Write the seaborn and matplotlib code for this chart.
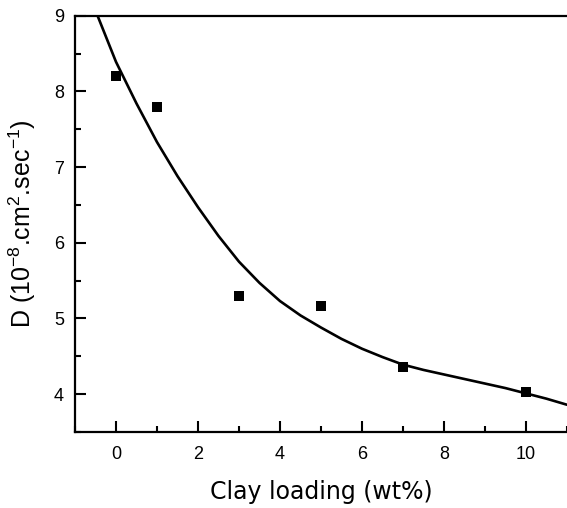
import matplotlib
matplotlib.use("Agg")
import matplotlib.pyplot as plt
from matplotlib.ticker import MultipleLocator
import pandas as pd
import seaborn as sns

# Measured diffusion coefficients
clay_wt = [0, 1, 3, 5, 7, 10]
diffusivity = [8.20, 7.80, 5.30, 5.16, 4.36, 4.03]

# Fitted trend curve
fit_x = [-0.45, 0.0, 0.5, 1.0, 1.5, 2.0, 2.5, 3.0, 3.5, 4.0, 4.5, 5.0, 5.5,
         6.0, 6.5, 7.0, 7.5, 8.0, 8.5, 9.0, 9.5, 10.0, 10.5, 11.0]
fit_y = [9.00, 8.39, 7.84, 7.33, 6.88, 6.47, 6.09, 5.75, 5.47, 5.23, 5.04, 4.88,
         4.73, 4.60, 4.49, 4.39, 4.32, 4.26, 4.20, 4.14, 4.08, 4.01, 3.94, 3.86]

x_ticks = [0, 2, 4, 6, 8, 10]
y_ticks = [4, 5, 6, 7, 8, 9]

sns.set_theme(style="ticks")
plt.rcParams["font.family"] = ["Liberation Sans", "DejaVu Sans"]
plt.rcParams["mathtext.fontset"] = "custom"
plt.rcParams["mathtext.rm"] = "Liberation Sans"
plt.rcParams["mathtext.default"] = "regular"

points = pd.DataFrame({"clay": clay_wt, "D": diffusivity})
curve = pd.DataFrame({"clay": fit_x, "D": fit_y})

fig = plt.figure(figsize=(5.67, 5.08), dpi=100)
ax = fig.add_axes([75 / 567, 76 / 508, 492 / 567, (432 - 15.7) / 508])

sns.lineplot(data=curve, x="clay", y="D", ax=ax, color="black", linewidth=1.9,
             sort=False, estimator=None, solid_joinstyle="round")
sns.scatterplot(data=points, x="clay", y="D", ax=ax, color="black", marker="s",
                s=62, edgecolor="black", linewidth=0, zorder=3)

ax.set_xlim(-1, 11)
ax.set_ylim(3.5, 9)
ax.set_xticks(x_ticks)
ax.set_yticks(y_ticks)
ax.xaxis.set_minor_locator(MultipleLocator(1))
ax.yaxis.set_minor_locator(MultipleLocator(0.5))

for side in ["left", "bottom", "top"]:
    ax.spines[side].set_linewidth(1.6)
    ax.spines[side].set_color("black")
ax.spines["right"].set_visible(False)

ax.tick_params(which="major", direction="in", length=8, width=1.5,
               colors="black", labelsize=13, top=False, right=False)
ax.tick_params(which="minor", direction="in", length=4.5, width=1.5,
               colors="black", top=False, right=False)
ax.tick_params(axis="x", which="major", pad=10)
ax.tick_params(axis="y", which="major", pad=8)

ax.set_xlabel("Clay loading (wt%)", fontsize=17, family=["DejaVu Sans"],
              labelpad=12, color="black")
ax.set_ylabel("D (10$^{-8}$.cm$^2$.sec$^{-1}$)", fontsize=18, labelpad=11,
              color="black")

fig.savefig("out.png", dpi=100, facecolor="white")
